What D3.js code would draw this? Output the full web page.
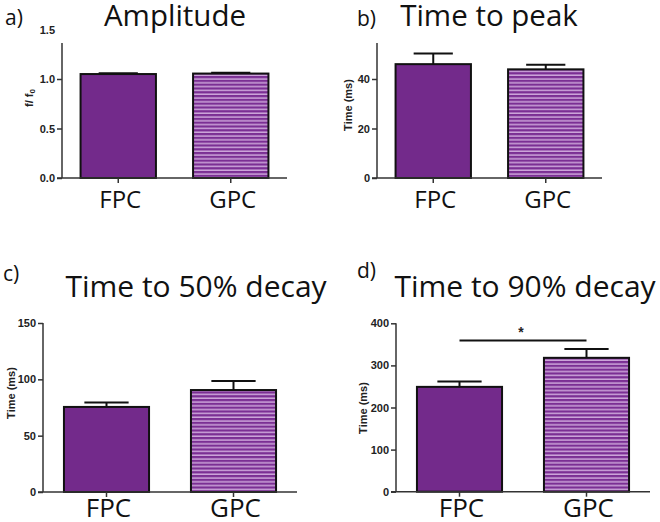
<!DOCTYPE html>
<html><head><meta charset="utf-8">
<script src="https://cdn.jsdelivr.net/npm/d3@7/dist/d3.min.js"></script>
<style>body{margin:0;background:#fff}svg{display:block}</style>
</head><body>
<svg id="chart" width="660" height="522"></svg>
<script>
const groups = ["FPC", "GPC"];
const amplitudeMean = [1.05, 1.055];
const amplitudeErr = [0.008, 0.008];
const amplitudeTicks = [0, 0.5, 1.0, 1.5];
const peakMean = [46, 43.9];
const peakErr = [4.3, 1.9];
const peakTicks = [0, 20, 40];
const decay50Mean = [75.5, 90.5];
const decay50Err = [4, 8];
const decay50Ticks = [0, 50, 100, 150];
const decay90Mean = [249, 318];
const decay90Err = [13, 21];
const decay90Ticks = [0, 100, 200, 300, 400];
const significance = { panel: "d", from: "FPC", to: "GPC", value: 359, label: "*" };

const svg = d3.select("#chart");
const PURPLE = "#732a8b";
const defs = svg.append("defs");
const pat = defs.append("pattern").attr("id", "stripes")
  .attr("patternUnits", "userSpaceOnUse").attr("width", 8).attr("height", 3.8);
pat.append("rect").attr("width", 8).attr("height", 3.8).attr("fill", "#7b2f94");
pat.append("rect").attr("y", 2.4).attr("width", 8).attr("height", 1.2).attr("fill", "#e2c4ec");

const panels = [
  { id: "a", title: "Amplitude", ylabel: "f/ f", sub: "0", mean: amplitudeMean, err: amplitudeErr, ticks: amplitudeTicks,
    x0: 62, x1: 287, yb: 178, ytop: 29.5, dmax: 1.5, lineTop: 43,
    titleX: 175, titleY: 26, titleSize: 29.5, tagX: 5, tagY: 25, labY: 208, labSize: 24, ylabX: 30, ylabY: 98, tickFmt: d3.format(".1f") },
  { id: "b", title: "Time to peak", ylabel: "Time (ms)", mean: peakMean, err: peakErr, ticks: peakTicks,
    x0: 377, x1: 602, yb: 178, ytop: 79, dmax: 40, lineTop: 43,
    titleX: 489, titleY: 26, titleSize: 29.5, tagX: 357, tagY: 26, labY: 208, labSize: 24, ylabX: 349, ylabY: 105, tickFmt: d3.format("d") },
  { id: "c", title: "Time to 50% decay", ylabel: "Time (ms)", mean: decay50Mean, err: decay50Err, ticks: decay50Ticks,
    x0: 43, x1: 297, yb: 492, ytop: 323, dmax: 150, lineTop: null,
    titleX: 196, titleY: 297, titleSize: 30, tagX: 3, tagY: 281, labY: 517, labSize: 26, ylabX: 12, ylabY: 393, tickFmt: d3.format("d") },
  { id: "d", title: "Time to 90% decay", ylabel: "Time (ms)", mean: decay90Mean, err: decay90Err, ticks: decay90Ticks,
    x0: 396, x1: 650, yb: 491.7, ytop: 323.3, dmax: 400, lineTop: null,
    titleX: 525, titleY: 296.5, titleSize: 30, tagX: 357, tagY: 278, labY: 517, labSize: 26, ylabX: 364, ylabY: 408, tickFmt: d3.format("d") }
];

panels.forEach(p => {
  const g = svg.append("g");
  const x = d3.scaleBand().domain(groups).range([p.x0, p.x1]).padding(0);
  const y = d3.scaleLinear().domain([0, p.dmax]).range([p.yb, p.ytop]);
  const bw = x.bandwidth() * 0.67;

  groups.forEach((grp, i) => {
    const cx = x(grp) + x.bandwidth() / 2;
    const top = y(p.mean[i]);
    const capTop = y(p.mean[i] + p.err[i]);
    g.append("line").attr("x1", cx).attr("x2", cx).attr("y1", top).attr("y2", capTop)
      .attr("stroke", "#111").attr("stroke-width", 2);
    g.append("line").attr("x1", cx - bw * 0.26).attr("x2", cx + bw * 0.26).attr("y1", capTop).attr("y2", capTop)
      .attr("stroke", "#111").attr("stroke-width", 2);
    g.append("rect").attr("x", cx - bw / 2).attr("y", top).attr("width", bw).attr("height", p.yb - top)
      .attr("fill", i === 0 ? PURPLE : "url(#stripes)").attr("stroke", "#111").attr("stroke-width", 2);
  });

  const ya = g.append("g").attr("transform", `translate(${p.x0},0)`)
    .call(d3.axisLeft(y).tickValues(p.ticks).tickFormat(p.tickFmt).tickSize(5).tickPadding(2));
  ya.select(".domain").remove();
  ya.selectAll(".tick line").attr("stroke", "#333").attr("stroke-width", 1.5);
  ya.selectAll(".tick text").attr("font-family", "Liberation Sans, Arial, sans-serif")
    .attr("font-weight", "bold").attr("font-size", 11).attr("fill", "#222");
  const top = p.lineTop !== null ? p.lineTop : p.ytop;
  if (p.lineTop !== null) {
    ya.selectAll(".tick").filter(d => y(d) < p.lineTop).select("line").remove();
  }
  g.append("line").attr("x1", p.x0).attr("x2", p.x0).attr("y1", top).attr("y2", p.yb)
    .attr("stroke", "#333").attr("stroke-width", 1.5);

  const xa = g.append("g").attr("transform", `translate(0,${p.yb})`)
    .call(d3.axisBottom(x).tickSize(5).tickPadding(0));
  xa.select(".domain").remove();
  xa.selectAll(".tick line").attr("stroke", "#333").attr("stroke-width", 1.5);
  xa.selectAll(".tick text").remove();
  g.append("line").attr("x1", p.x0 - 5).attr("x2", p.x1).attr("y1", p.yb).attr("y2", p.yb)
    .attr("stroke", "#333").attr("stroke-width", 1.5);
  groups.forEach(grp => {
    g.append("text").attr("x", x(grp) + x.bandwidth() / 2 + 2).attr("y", p.labY)
      .attr("text-anchor", "middle").attr("font-family", "Open Sans, sans-serif")
      .attr("font-size", p.labSize).attr("fill", "#111").text(grp);
  });

  const yl = g.append("text").attr("transform", `translate(${p.ylabX},${p.ylabY}) rotate(-90)`)
    .attr("text-anchor", "middle").attr("dominant-baseline", "middle")
    .attr("font-family", "Liberation Sans, Arial, sans-serif").attr("font-weight", "bold")
    .attr("font-size", 11).attr("fill", "#222").text(p.ylabel);
  if (p.sub) yl.append("tspan").attr("font-size", 8).attr("dy", 3).text(p.sub);

  g.append("text").attr("x", p.titleX).attr("y", p.titleY).attr("text-anchor", "middle")
    .attr("font-family", "Open Sans, sans-serif").attr("font-size", p.titleSize).attr("fill", "#111").text(p.title);
  g.append("text").attr("x", p.tagX).attr("y", p.tagY)
    .attr("font-family", "Open Sans, sans-serif").attr("font-size", 21).attr("fill", "#111").text(p.id + ")");

  if (significance.panel === p.id) {
    const xs = x(significance.from) + x.bandwidth() / 2;
    const xe = x(significance.to) + x.bandwidth() / 2;
    const ys = y(significance.value);
    g.append("line").attr("x1", xs).attr("x2", xe).attr("y1", ys).attr("y2", ys)
      .attr("stroke", "#111").attr("stroke-width", 2);
    g.append("text").attr("x", (xs + xe) / 2 - 2).attr("y", ys - 4).attr("text-anchor", "middle")
      .attr("font-family", "Liberation Sans, Arial, sans-serif").attr("font-weight", "bold")
      .attr("font-size", 14).attr("fill", "#222").text(significance.label);
  }
});
</script>
</body></html>
